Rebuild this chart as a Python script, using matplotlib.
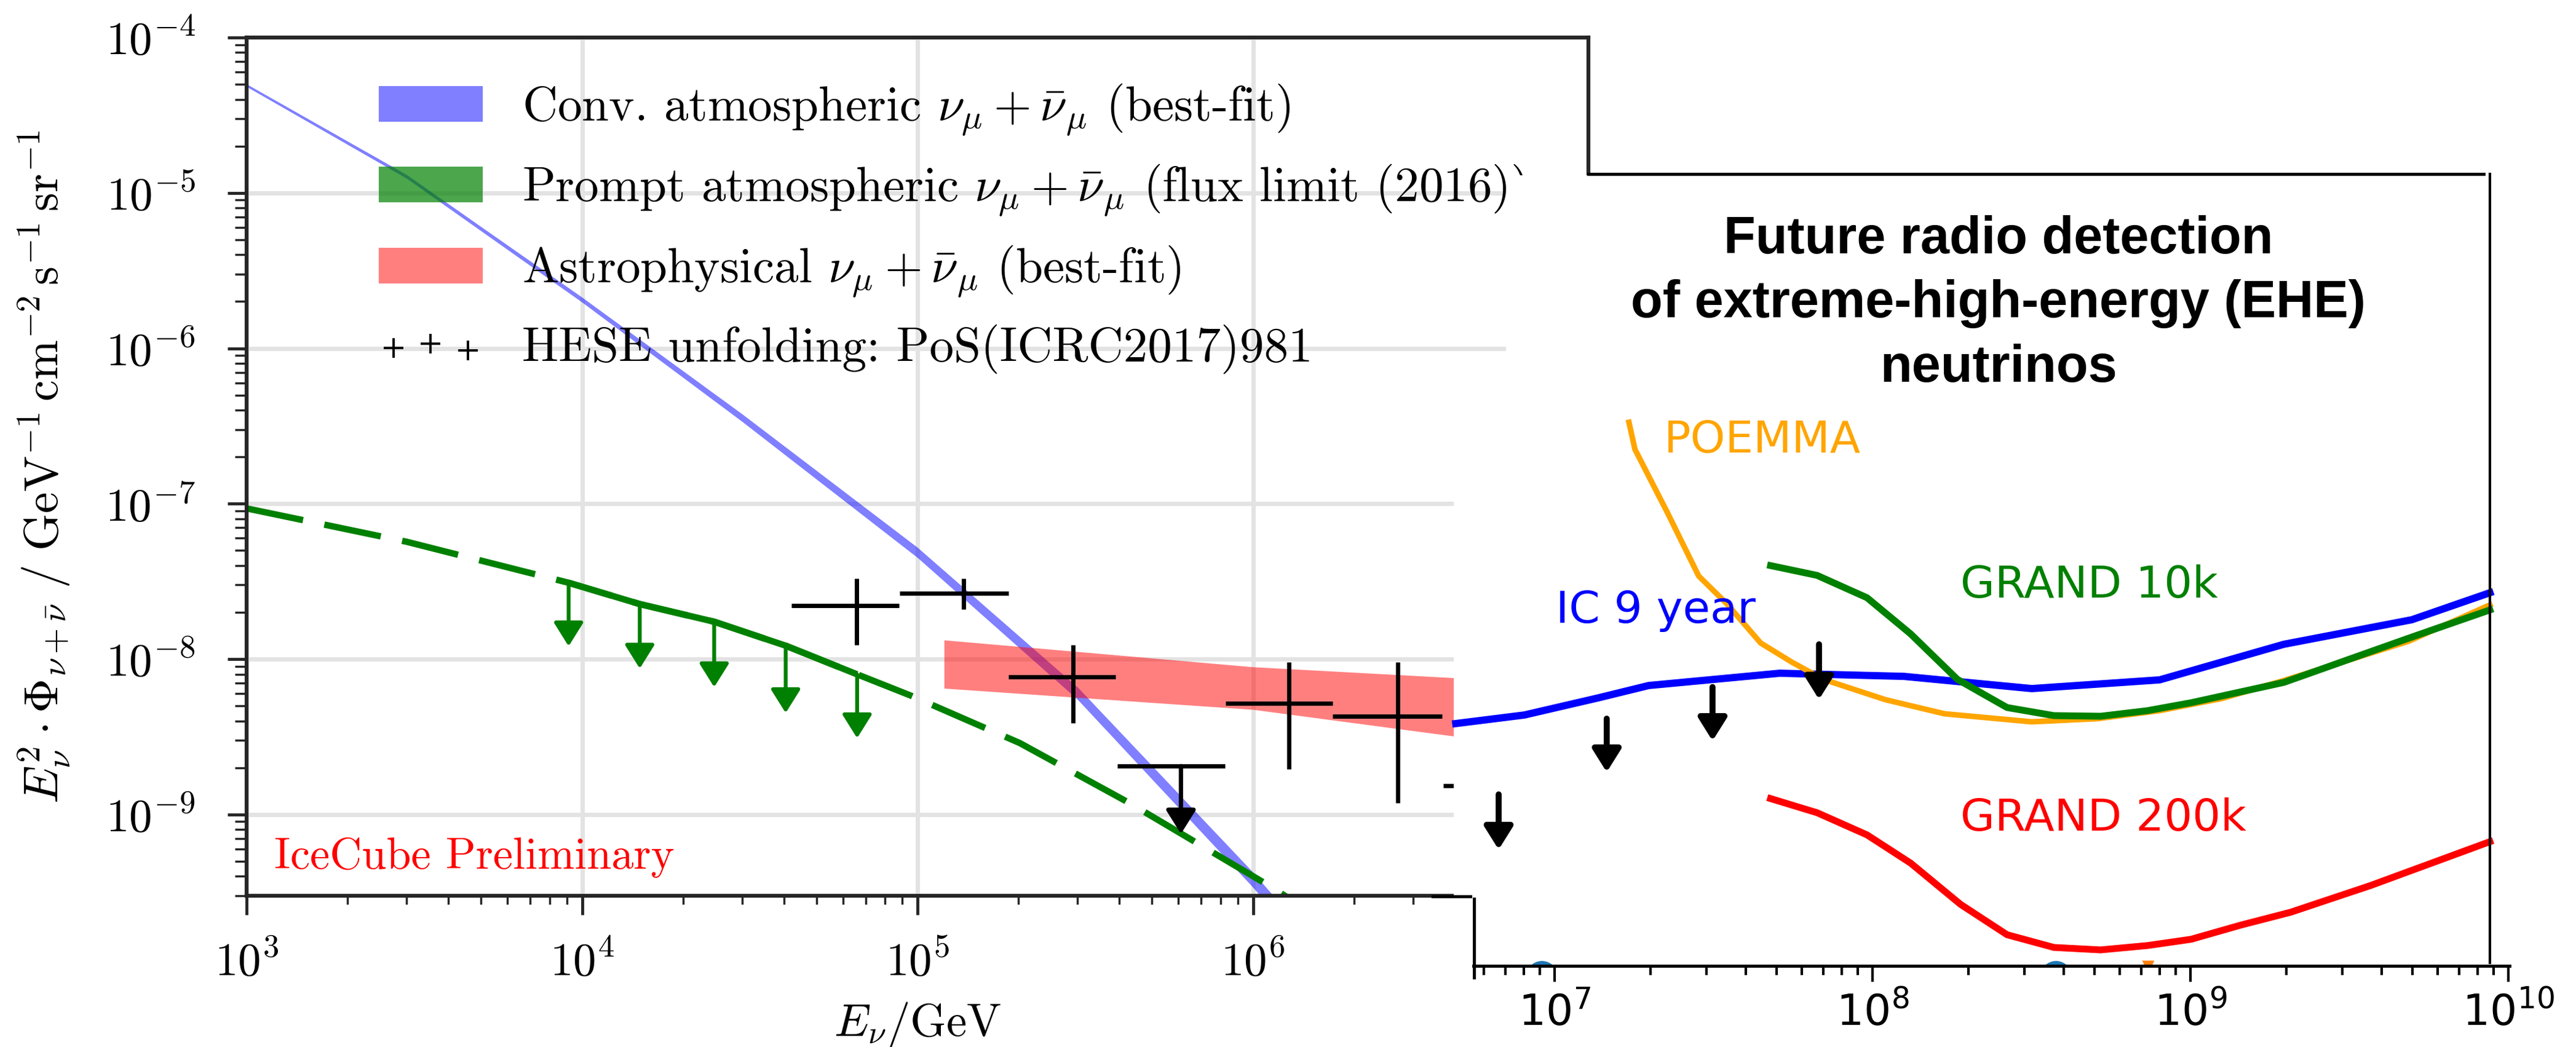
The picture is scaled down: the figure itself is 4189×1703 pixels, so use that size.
import matplotlib
matplotlib.use("Agg")
import matplotlib.pyplot as plt
from matplotlib.lines import Line2D
from matplotlib.patches import Patch, Rectangle, ArrowStyle

W_PX, H_PX, DPI = 4189, 1703, 100

# ---- IceCube panel ----
conv_E = [1e3, 3e3, 1e4, 3e4, 1e5, 3e5, 1e6, 1.6e6]
conv_lo = [4.83e-5, 1.24e-5, 1.98e-6, 3.38e-7, 4.50e-8, 5.50e-9, 3.40e-10, 1.04e-10]
conv_hi = [5.02e-5, 1.31e-5, 2.13e-6, 3.78e-7, 5.23e-8, 6.60e-9, 4.25e-10, 1.32e-10]

prompt_E = [1e3, 3e3, 9.12e3, 1.486e4, 2.477e4, 4.046e4, 6.607e4,
            9.5e4, 2.02e5, 4.3e5, 1.1e6, 1.26e6]
prompt_flux = [9.33e-8, 5.69e-8, 3.10e-8, 2.26e-8, 1.74e-8, 1.22e-8, 7.98e-9,
               5.85e-9, 2.88e-9, 1.18e-9, 3.55e-10, 2.95e-10]
prompt_limit_range = (9.0e3, 6.7e4)
prompt_arrow_tip = [1.21e-8, 8.7e-9, 6.6e-9, 4.5e-9, 3.1e-9]

astro_E = [1.2e5, 1e6, 5e6]
astro_lo = [6.49e-9, 4.74e-9, 2.99e-9]
astro_hi = [1.327e-8, 8.91e-9, 7.38e-9]

hese_E = [6.58e4, 1.374e5, 2.91e5, 6.10e5, 1.28e6, 2.70e6, 5.45e6]
hese_E_lo = [4.21e4, 8.85e4, 1.87e5, 3.94e5, 8.30e5, 1.73e6, 3.69e6]
hese_E_hi = [8.81e4, 1.87e5, 3.90e5, 8.24e5, 1.73e6, 3.66e6, 7.76e6]
hese_flux = [2.21e-8, 2.65e-8, 7.67e-9, 2.05e-9, 5.19e-9, 4.29e-9, 1.53e-9]
hese_flux_lo = [1.23e-8, 2.09e-8, 3.88e-9, 7.5e-10, 1.96e-9, 1.19e-9, 6.0e-10]
hese_flux_hi = [3.30e-8, 3.30e-8, 1.23e-8, 2.05e-9, 9.55e-9, 9.55e-9, 1.53e-9]
hese_upper_limit = [False, False, False, True, False, False, True]

# ---- radio / EHE panel ----
ic9_E = [4.89e6, 8.04e6, 1.377e7, 1.977e7, 5.11e7, 1.256e8, 3.17e8, 8.0e8,
         1.968e9, 4.97e9, 8.75e9]
ic9_flux = [3.85e-9, 4.37e-9, 5.64e-9, 6.76e-9, 8.11e-9, 7.74e-9, 6.46e-9,
            7.35e-9, 1.245e-8, 1.79e-8, 2.67e-8]

poemma_E = [1.714e7, 1.79e7, 2.26e7, 2.84e7, 3.48e7, 4.45e7, 5.58e7, 7.0e7,
            1.099e8, 1.683e8, 3.17e8, 5.1e8, 8.0e8, 1.256e9, 1.968e9, 4.86e9, 8.75e9]
poemma_flux = [3.33e-7, 2.23e-7, 8.81e-8, 3.42e-8, 2.27e-8, 1.268e-8, 9.55e-9, 7.41e-9,
               5.48e-9, 4.45e-9, 3.95e-9, 4.14e-9, 4.66e-9, 5.58e-9, 7.28e-9, 1.303e-8, 2.23e-8]

grand10k_E = [4.78e7, 6.70e7, 9.61e7, 1.318e8, 1.849e8, 2.65e8, 3.72e8, 5.22e8,
              7.33e8, 1.005e9, 1.968e9, 4.86e9, 8.75e9]
grand10k_flux = [3.99e-8, 3.45e-8, 2.48e-8, 1.452e-8, 7.41e-9, 4.88e-9, 4.33e-9, 4.29e-9,
                 4.66e-9, 5.24e-9, 7.08e-9, 1.363e-8, 2.07e-8]

grand200k_E = [4.78e7, 6.70e7, 9.61e7, 1.318e8, 1.892e8, 2.65e8, 3.72e8, 5.22e8,
               7.33e8, 1.005e9, 1.442e9, 2.07e9, 3.70e9, 8.75e9]
grand200k_flux = [1.268e-9, 1.028e-9, 7.41e-10, 4.88e-10, 2.65e-10, 1.69e-10, 1.40e-10,
                  1.35e-10, 1.44e-10, 1.58e-10, 1.95e-10, 2.36e-10, 3.51e-10, 6.70e-10]

ul_E = [6.67e6, 1.459e7, 3.14e7, 6.79e7]
ul_top = [1.349e-9, 4.14e-9, 6.61e-9, 1.245e-8]
ul_tip = [5.96e-10, 1.875e-9, 2.98e-9, 5.50e-9]

edge_blue_E = [9.1e6, 3.77e8]
edge_blue_flux = [9.08e-11, 9.08e-11]
edge_orange_E = [7.36e8]
edge_orange_flux = [1.057e-10]

plt.rcParams.update({
    "font.family": "serif",
    "font.serif": ["cmr10"],
    "mathtext.fontset": "cm",
    "axes.formatter.use_mathtext": True,
})


def fx(px):
    return px / W_PX


def fy(py):
    return 1 - py / H_PX


ARROW = ArrowStyle("-|>", head_length=0.32, head_width=0.2)

fig = plt.figure(figsize=(W_PX / DPI, H_PX / DPI), dpi=DPI)
ax = fig.add_axes([fx(401), fy(1457), fx(2583) - fx(401), fy(61) - fy(1457)])
ax_r = fig.add_axes([fx(2396), fy(1571), fx(4081) - fx(2396), fy(283) - fy(1571)])
ax.set_zorder(0)
ax_r.set_zorder(2)
ax_r.patch.set_visible(False)

# ---------------- left: IceCube spectrum ----------------
ax.set_xscale("log")
ax.set_yscale("log")
ax.set_xlim(1e3, 1e7)
ax.set_ylim(3e-10, 1e-4)
ax.grid(True, which="major", color="#e3e3e3", lw=5)
ax.set_axisbelow(True)
for s in ax.spines.values():
    s.set_linewidth(4.5)
    s.set_color("#262626")
ax.tick_params(which="both", direction="out", color="#262626", labelsize=54)
ax.tick_params(which="major", length=22, width=3.5)
ax.tick_params(axis="x", which="major", pad=31)
ax.tick_params(axis="y", which="major", pad=38)
ax.tick_params(axis="x", which="minor", length=10, width=2.5)
ax.tick_params(axis="y", which="minor", length=14, width=2.5)

ax.fill_between(conv_E, conv_lo, conv_hi, color="blue", alpha=0.5, lw=0)
ax.fill_between(astro_E, astro_lo, astro_hi, color="red", alpha=0.5, lw=0)

ax.plot(prompt_E, prompt_flux, color="green", lw=7.5, ls=(0, (9, 3.4)))
lim_E = [e for e in prompt_E if prompt_limit_range[0] <= e <= prompt_limit_range[1]]
lim_f = [f for e, f in zip(prompt_E, prompt_flux)
         if prompt_limit_range[0] <= e <= prompt_limit_range[1]]
ax.plot(lim_E, lim_f, color="green", lw=7.5, solid_capstyle="butt")
for e, f, tip in zip(lim_E, lim_f, prompt_arrow_tip):
    ax.annotate("", xy=(e, tip), xytext=(e, f),
                arrowprops=dict(arrowstyle=ARROW, mutation_scale=74, color="green",
                                lw=4.5, shrinkA=0, shrinkB=0))

for e, elo, ehi, f, flo, fhi, lim in zip(hese_E, hese_E_lo, hese_E_hi, hese_flux,
                                          hese_flux_lo, hese_flux_hi, hese_upper_limit):
    ax.plot([elo, ehi], [f, f], color="k", lw=5, solid_capstyle="butt")
    if lim:
        ax.annotate("", xy=(e, flo), xytext=(e, f),
                    arrowprops=dict(arrowstyle=ARROW, mutation_scale=74, color="k",
                                    lw=5, shrinkA=0, shrinkB=0))
    else:
        ax.plot([e, e], [flo, fhi], color="k", lw=5, solid_capstyle="butt")

hese_proxy = ax.scatter([], [], marker="+", s=520, color="k", linewidths=2.8)
handles = [Patch(fc=(0, 0, 1, 0.5), ec="none"),
           Patch(fc=(0, 0.5, 0, 0.7), ec="none"),
           Patch(fc=(1, 0, 0, 0.5), ec="none"),
           hese_proxy]
labels = [r"Conv. atmospheric $\nu_\mu + \bar{\nu}_\mu$ (best-fit)",
          r"Prompt atmospheric $\nu_\mu + \bar{\nu}_\mu$ (flux limit (2016))",
          r"Astrophysical $\nu_\mu + \bar{\nu}_\mu$ (best-fit)",
          "HESE unfolding: PoS(ICRC2017)981"]
ax.legend(handles, labels, loc="upper left", bbox_to_anchor=(0.0985, 0.948),
          frameon=False, fontsize=57, handlelength=2.13, handleheight=0.75,
          handletextpad=0.81, labelspacing=0.52, borderpad=0, borderaxespad=0,
          scatterpoints=3)

ax.text(0.0206, 0.0315, "IceCube Preliminary", color="red", fontsize=52,
        transform=ax.transAxes, va="baseline")
ax.set_xlabel(r"$E_{\nu}/\mathrm{GeV}$", fontsize=54)
ax.xaxis.set_label_coords(0.5, -0.122)
ax.set_ylabel(r"$E_{\nu}^{2}\cdot\Phi_{\nu+\bar{\nu}}\ /\ \mathrm{GeV}^{-1}\,"
              r"\mathrm{cm}^{-2}\,\mathrm{s}^{-1}\,\mathrm{sr}^{-1}$", fontsize=56)
ax.yaxis.set_label_coords(-0.1297, 0.5)

# white inset background
fig.add_artist(Rectangle((fx(2449), 0), 1 - fx(2449), fy(285), transform=fig.transFigure,
                         fc="white", ec="none", zorder=1))
fig.add_artist(Rectangle((fx(2364), fy(1475)), fx(2449) - fx(2364), fy(700) - fy(1475),
                         transform=fig.transFigure, fc="white", ec="none", zorder=1))

# ---------------- right: radio EHE sensitivities ----------------
ax_r.set_xscale("log")
ax_r.set_yscale("log")
ax_r.set_xlim(5.556e6, 1.009e10)
ax_r.set_ylim(1.066e-10, 1.314e-5)
for side in ["left", "top", "right"]:
    ax_r.spines[side].set_visible(False)
ax_r.spines["bottom"].set_linewidth(3.6)
ax_r.tick_params(axis="y", which="both", left=False, labelleft=False)
ax_r.tick_params(axis="x", which="major", length=19, width=3, direction="out", pad=12)
ax_r.tick_params(axis="x", which="minor", length=11, width=3, direction="out")
ax_r.set_xticks([1e7, 1e8, 1e9, 1e10],
                labels=[r"$10^{7}$", r"$10^{8}$", r"$10^{9}$", r"$10^{10}$"],
                fontsize=50, fontfamily="DejaVu Sans", math_fontfamily="dejavusans")

ax_r.scatter(edge_blue_E, edge_blue_flux, s=1444, color="#1f77b4", lw=0)
ax_r.scatter(edge_orange_E, edge_orange_flux, s=207, marker="v", color="#ff7f0e", lw=0)

ax_r.plot(ic9_E, ic9_flux, color="blue", lw=8.5, clip_on=False)
ax_r.plot(poemma_E, poemma_flux, color="orange", lw=6.5)
ax_r.plot(grand10k_E, grand10k_flux, color="green", lw=8)
ax_r.plot(grand200k_E, grand200k_flux, color="red", lw=8)

for e, top, tip in zip(ul_E, ul_top, ul_tip):
    ax_r.annotate("", xy=(e, tip), xytext=(e, top),
                  arrowprops=dict(arrowstyle=ARROW, mutation_scale=70, color="k",
                                  lw=7, shrinkA=0, shrinkB=0))

label_kw = dict(fontsize=52, family="DejaVu Sans", va="baseline", ha="left")
ax_r.text(1.01e7, 1.71e-8, "IC 9 year", color="blue", **label_kw)
ax_r.text(2.21e7, 2.13e-7, "POEMMA", color="orange", **label_kw)
ax_r.text(1.89e8, 2.48e-8, "GRAND 10k", color="green", **label_kw)
ax_r.text(1.89e8, 7.89e-10, "GRAND 200k", color="red", **label_kw)

title_kw = dict(fontsize=61, family="Liberation Sans", weight="bold", ha="center",
                va="baseline")
fig.text(fx(3250), fy(412), "Future radio detection", **title_kw)
fig.text(fx(3250), fy(516), "of extreme-high-energy (EHE)", **title_kw)
fig.text(fx(3250), fy(621), "neutrinos", **title_kw)

# frame pieces joining the two panels
frame_lines = [
    ([2583, 4039], [283, 283], 3.6),
    ([4049, 4049], [283, 1566], 3.0),
    ([2397, 2397], [1462, 1590], 3.6),
    ([2330, 2391], [1458, 1458], 3.6),
]
for xs, ys, lw in frame_lines:
    fig.add_artist(Line2D([fx(v) for v in xs], [fy(v) for v in ys],
                          transform=fig.transFigure, color="k", lw=lw, zorder=3))

fig.savefig("out.png", dpi=DPI)
